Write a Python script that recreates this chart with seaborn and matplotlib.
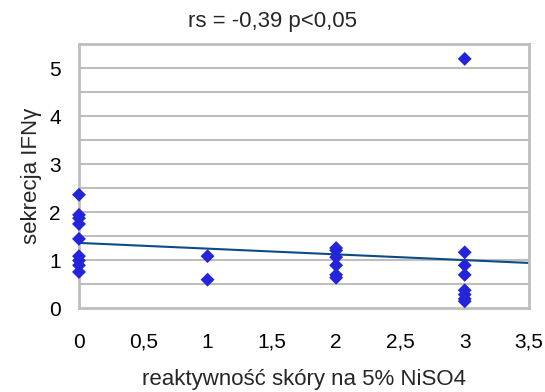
import numpy as np
import pandas as pd
import matplotlib
matplotlib.use("Agg")
import matplotlib.pyplot as plt
import seaborn as sns

# data
x_vals = [0, 0, 0, 0, 0, 0, 0, 0, 0,
          1, 1,
          2, 2, 2, 2, 2, 2,
          3, 3, 3, 3, 3, 3, 3, 3]
y_vals = [2.36, 1.94, 1.87, 1.75, 1.44, 1.08, 0.99, 0.89, 0.75,
          1.08, 0.59,
          1.25, 1.20, 1.06, 0.89, 0.69, 0.63,
          5.19, 1.16, 0.89, 0.69, 0.37, 0.28, 0.19, 0.14]
x_ticks = [0, 0.5, 1, 1.5, 2, 2.5, 3, 3.5]
x_tick_labels = ["0", "0,5", "1", "1,5", "2", "2,5", "3", "3,5"]
y_ticks = [0, 1, 2, 3, 4, 5]
y_tick_labels = ["0", "1", "2", "3", "4", "5"]
title = "rs = -0,39 p<0,05"
x_label = "reaktywność skóry na 5% NiSO4"
y_label = "sekrecja IFNγ"

df = pd.DataFrame({"x": x_vals, "y": y_vals})

sns.set_style("white")
plt.rcParams["font.family"] = ["Liberation Sans", "DejaVu Sans"]

fig = plt.figure(figsize=(5.45, 3.92), dpi=100)
ax = fig.add_axes([79 / 545, (392 - 308) / 392, (529 - 79) / 545, (308 - 44) / 392])

ax.set_xlim(0, 3.5)
ax.set_ylim(0, 5.5)

# grid every 0.5
for g in np.arange(0.5, 5.51, 0.5):
    ax.axhline(g, color="#BEBEBE", lw=1.5, zorder=0)

sns.regplot(data=df, x="x", y="y", scatter=False, ci=None, truncate=False,
            ax=ax, line_kws={"color": "#0B4C86", "lw": 1.5, "zorder": 2})
sns.scatterplot(data=df, x="x", y="y", marker="D", s=50, color="#2424DA",
                edgecolor="none", linewidth=0, ax=ax, zorder=3, clip_on=False)

ax.set_xlim(0, 3.5)
ax.set_ylim(0, 5.5)
ax.set_xticks(x_ticks)
ax.set_xticklabels(x_tick_labels)
ax.set_yticks(y_ticks)
ax.set_yticklabels(y_tick_labels)
ax.tick_params(axis="both", length=0, labelsize=15, colors="black")
ax.tick_params(axis="x", pad=18)
ax.tick_params(axis="y", pad=13)
for s in ax.spines.values():
    s.set_color("#BEBEBE")
    s.set_linewidth(2)
ax.set_xlabel(x_label, fontsize=16)
ax.xaxis.set_label_coords(0.5, -0.232)
ax.set_ylabel(y_label, fontsize=16)
ax.yaxis.set_label_coords(-0.082, 0.5)
fig.text(0.5, 1 - 21 / 392, title, ha="center", va="center", fontsize=16)

fig.savefig("out.png", dpi=100)
